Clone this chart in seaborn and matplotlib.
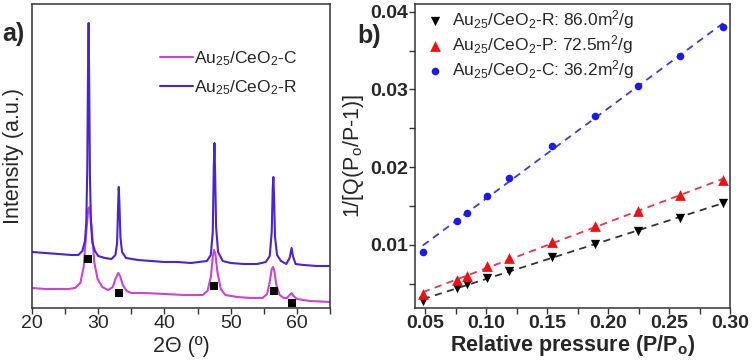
import numpy as np
import pandas as pd
import matplotlib
matplotlib.use("Agg")
import matplotlib.pyplot as plt
import seaborn as sns
from matplotlib.ticker import MultipleLocator

sns.set_theme(style="white")
plt.rcParams['font.family'] = ['Liberation Sans', 'DejaVu Sans']
plt.rcParams['mathtext.default'] = 'regular'

# ---------------- Panel a: XRD ----------------
r_theta = [20, 22, 24, 26, 27, 27.6, 28.0, 28.2, 28.35, 28.45, 28.55, 28.65, 28.75, 28.9, 29.1, 29.5, 30, 31, 32,
           32.6, 32.85, 33.0, 33.1, 33.2, 33.35, 33.6, 34.2, 36, 38, 40, 42, 44, 46.4, 47.0, 47.3, 47.45, 47.55,
           47.65, 47.8, 48.1, 48.8, 50, 52, 54, 55.3, 55.9, 56.2, 56.35, 56.45, 56.55, 56.7, 57.0, 57.6, 58.4,
           58.9, 59.2, 59.4, 59.8, 61, 63, 65]
r_int = [55, 54, 53, 52, 52, 56, 66, 85, 140, 230, 284, 215, 130, 85, 65, 56, 51, 49, 48,
         52, 64, 100, 120, 104, 70, 55, 49, 47, 46, 45, 45, 44, 46, 52, 75, 140, 164,
         135, 80, 55, 46, 44, 43, 43, 45, 51, 75, 118, 130, 110, 70, 52, 46, 43,
         49, 59, 51, 43, 42, 41, 41]

c_theta = [20, 22, 24, 25.5, 26.5, 27.3, 27.8, 28.2, 28.5, 28.7, 29.0, 29.4, 29.9, 30.6, 31.5, 32.2, 32.6, 33.0,
           33.3, 33.7, 34.3, 35.0, 37, 40, 43, 45.8, 46.5, 47.0, 47.3, 47.5, 47.7, 48.0, 48.5, 49.2, 51, 53,
           54.8, 55.5, 55.9, 56.2, 56.4, 56.6, 56.9, 57.4, 58.0, 58.5, 58.9, 59.2, 59.5, 60.0, 62, 65]
c_int = [19, 18, 18, 18, 19, 24, 40, 75, 98, 100, 80, 45, 28, 20, 17, 20, 28, 34,
         31, 22, 16, 14, 14, 13, 12, 12, 16, 30, 50, 57, 53, 35, 18, 12, 10, 9,
         9, 13, 25, 38, 40, 36, 22, 12, 9, 9, 12, 14, 11, 8, 6, 5]

ref_theta = [28.5, 33.15, 47.55, 56.55, 59.25]
ref_int = [48, 14, 21, 16, 4]

# ---------------- Panel b: BET ----------------
rel_p = [0.0481, 0.0762, 0.0845, 0.1011, 0.1191, 0.1544, 0.1890, 0.2249, 0.2594, 0.2945]
bet_R = [0.0028, 0.0044, 0.0049, 0.0057, 0.0066, 0.0084, 0.0101, 0.0118, 0.0135, 0.0154]
bet_P = [0.0036, 0.0054, 0.0060, 0.0072, 0.0083, 0.0104, 0.0124, 0.0143, 0.0164, 0.0183]
bet_C = [0.0091, 0.0131, 0.0141, 0.0163, 0.0186, 0.0227, 0.0266, 0.0305, 0.0343, 0.0381]

lab_a_C = "Au$_{25}$/CeO$_2$-C"
lab_a_R = "Au$_{25}$/CeO$_2$-R"
lab_b_R = "Au$_{25}$/CeO$_2$-R: 86.0m$^2$/g"
lab_b_P = "Au$_{25}$/CeO$_2$-P: 72.5m$^2$/g"
lab_b_C = "Au$_{25}$/CeO$_2$-C: 36.2m$^2$/g"

W, H = 752, 364
fig = plt.figure(figsize=(W / 100, H / 100), dpi=100)

def box(l, t, r, b):
    return [l / W, 1 - b / H, (r - l) / W, (b - t) / H]

spine_c = "#333333"
tick_fs = 14
lab_fs = 15.5

# ---- panel a
axa = fig.add_axes(box(32, 4, 330, 308))
col_C = "#cc44d4"
col_R = "#4a22d8"
sns.lineplot(x=c_theta, y=c_int, ax=axa, color=col_C, lw=1.5, label=lab_a_C)
sns.lineplot(x=r_theta, y=r_int, ax=axa, color=col_R, lw=1.5, label=lab_a_R)
sns.scatterplot(x=ref_theta, y=ref_int, ax=axa, marker="s", color="black", s=36, edgecolor="black",
                linewidth=0, zorder=5, clip_on=False)
axa.set_xlim(20, 65)
axa.set_ylim(-1, 303)
axa.set_yticks([])
axa.xaxis.set_major_locator(MultipleLocator(10))
axa.xaxis.set_minor_locator(MultipleLocator(5))
axa.tick_params(axis="x", which="both", direction="out", length=4, width=1, color=spine_c,
                labelsize=tick_fs, pad=1, bottom=True)
axa.set_xlabel("2Θ (º)", fontsize=lab_fs, labelpad=3)
axa.set_ylabel("Intensity (a.u.)", fontsize=lab_fs, labelpad=6)
leg = axa.legend(loc="upper left", bbox_to_anchor=(0.43, 0.852), frameon=False, fontsize=12.5,
                 handlelength=1.9, handletextpad=0.05, labelspacing=0.6, borderpad=0, borderaxespad=0)
for ln in leg.get_lines():
    ln.set_linewidth(1.5)

# ---- panel b
axb = fig.add_axes(box(415, 4, 730, 308))
c_blue = "#1a1aee"
c_red = "#ee1111"
sns.regplot(x=rel_p, y=bet_R, ax=axb, scatter=False, ci=None, truncate=True,
            line_kws=dict(color="#333333", ls=(0, (4, 3)), lw=1.3))
sns.regplot(x=rel_p, y=bet_P, ax=axb, scatter=False, ci=None, truncate=True,
            line_kws=dict(color="#e8344e", ls=(0, (4, 3)), lw=1.3))
sns.regplot(x=rel_p, y=bet_C, ax=axb, scatter=False, ci=None, truncate=True,
            line_kws=dict(color="#3340dd", ls=(0, (4, 3)), lw=1.3))
sns.scatterplot(x=rel_p, y=bet_R, ax=axb, marker="v", color="black", s=45, linewidth=0, label=lab_b_R, zorder=4)
sns.scatterplot(x=rel_p, y=bet_P, ax=axb, marker="^", color=c_red, s=60, linewidth=0, label=lab_b_P, zorder=4)
sns.scatterplot(x=rel_p, y=bet_C, ax=axb, marker="o", color=c_blue, s=30, linewidth=0, label=lab_b_C, zorder=4)
axb.set_xlim(0.0417, 0.30)
axb.set_ylim(0.00185, 0.041)
axb.xaxis.set_major_locator(MultipleLocator(0.05))
axb.xaxis.set_minor_locator(MultipleLocator(0.025))
axb.yaxis.set_major_locator(MultipleLocator(0.01))
axb.yaxis.set_minor_locator(MultipleLocator(0.005))
axb.xaxis.set_major_formatter(matplotlib.ticker.FormatStrFormatter("%.2f"))
axb.yaxis.set_major_formatter(matplotlib.ticker.FormatStrFormatter("%.2f"))
axb.tick_params(axis="both", which="both", direction="out", length=4, width=1, color=spine_c,
                labelsize=tick_fs, pad=1, bottom=True, left=True)
for t in axb.get_xticklabels() + axb.get_yticklabels():
    t.set_fontweight("bold")
axb.set_xlabel("Relative pressure (P/P$_o$)", fontsize=lab_fs, fontweight="bold", labelpad=1)
axb.set_ylabel("1/[Q(P$_o$/P-1)]", fontsize=lab_fs, labelpad=3)
axb.legend(loc="upper left", bbox_to_anchor=(0.03, 0.985), frameon=False, fontsize=12.5,
           handlelength=1.2, handletextpad=0.4, labelspacing=0.12, borderpad=0, borderaxespad=0)

for ax in (axa, axb):
    for s in ax.spines.values():
        s.set_visible(True)
        s.set_color(spine_c)
        s.set_linewidth(1.1)

fig.text(2 / W, 1 - 34 / H, "a)", fontsize=18, fontweight="bold", va="center", ha="left")
fig.text(357 / W, 1 - 36 / H, "b)", fontsize=18, fontweight="bold", va="center", ha="left")

fig.savefig("out.png", dpi=100)
